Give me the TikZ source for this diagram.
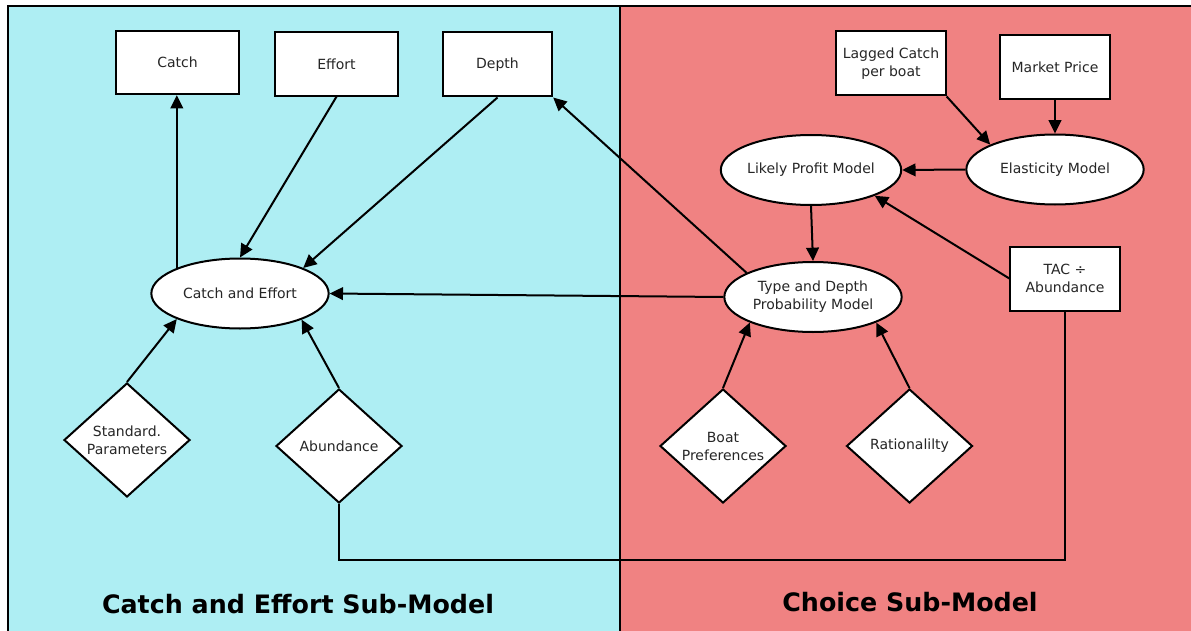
\documentclass[tikz,border=0pt]{standalone}
\usepackage{fontspec}
\setmainfont{DejaVu Sans}
\usetikzlibrary{shapes.geometric,arrows.meta}
\definecolor{cecyan}{RGB}{174,238,243}
\definecolor{chpink}{RGB}{240,130,130}
\begin{document}
\begin{tikzpicture}[x=0.75pt,y=-0.75pt,
  every node/.style={font=\fontsize{10.5}{13.5}\selectfont, align=center, text=black!85},
  box/.style={draw, line width=1.5pt, fill=white, minimum width=92pt, minimum height=47.5pt, inner sep=1pt},
  smallbox/.style={box, minimum width=82pt, minimum height=48pt},
  oval/.style={ellipse, draw, line width=1.5pt, fill=white, minimum width=133pt, minimum height=52.5pt, inner sep=0pt},
  dia/.style={diamond, draw, line width=1.5pt, fill=white, minimum width=94.5pt, minimum height=85.5pt, inner sep=0pt},
  conn/.style={line width=1.5pt, -{Triangle[length=10pt,width=9.5pt]}},
  plain/.style={line width=1.5pt},
  title/.style={font=\fontsize{19}{22}\selectfont\bfseries, text=black}]
\useasboundingbox (0,0) rectangle (1191,631);
\clip (0,0) rectangle (1191,631);
% panels
\fill[cecyan] (8,6) rectangle (620,640);
\fill[chpink] (620,6) rectangle (1200,640);
\draw[line width=1.3pt] (8,640) -- (8,6) -- (620,6) -- (620,640);
\draw[line width=1.3pt] (620,6) -- (1200,6);
% nodes
\node[box] (catch) at (177.5,62.5) {Catch};
\node[box] (effort) at (336.5,64) {Effort};
\node[smallbox] (depth) at (497.5,64.5) {Depth};
\node[smallbox] (lagged) at (891,63.5) {Lagged Catch\\per boat};
\node[smallbox] (market) at (1055,67) {Market Price};
\node[oval] (lp) at (811,170) {Likely Profit Model};
\node[oval] (el) at (1055,169.5) {Elasticity Model};
\node[smallbox] (tac) at (1065,278.5) {TAC ÷\\Abundance};
\node[oval] (td) at (813,297) {Type and Depth\\Probability Model};
\node[oval] (ce) at (240,293.5) {Catch and Effort};
\node[dia] (sp) at (127,440) {Standard.\\Parameters};
\node[dia] (ab) at (339,446) {Abundance};
\node[dia] (bp) at (723,446) {Boat\\Preferences};
\node[dia] (ra) at (909.5,446) {Rationalilty};
% connectors
\draw[conn] (ce.158.6) -- (ce.158.6 |- catch.south);
\draw[conn] (effort.south) -- (ce.north);
\draw[conn] (depth.south) -- (ce.22);
\draw[conn] (td.160) -- (depth.south east);
\draw[conn] (td.west) -- (ce.east);
\draw[conn] (lagged.south east) -- (el.159);
\draw[conn] (market.south) -- (el.north);
\draw[conn] (el.west) -- (lp.east);
\draw[conn] (lp.south) -- (td.north);
\draw[conn] (tac.west) -- (lp.-22);
\draw[conn] (sp.north) -- (ce.202);
\draw[conn] (ab.north) -- (ce.-23);
\draw[conn] (bp.north) -- (td.202);
\draw[conn] (ra.north) -- (td.-22);
\coordinate (bot) at (700,560);
\draw[plain] (ab.south) |- (bot) -| (tac.south);
% titles
\node[title] (t1) at (298,604) {Catch and Effort Sub-Model};
\node[title] (t2) at (910,602) {Choice Sub-Model};
\end{tikzpicture}
\end{document}
